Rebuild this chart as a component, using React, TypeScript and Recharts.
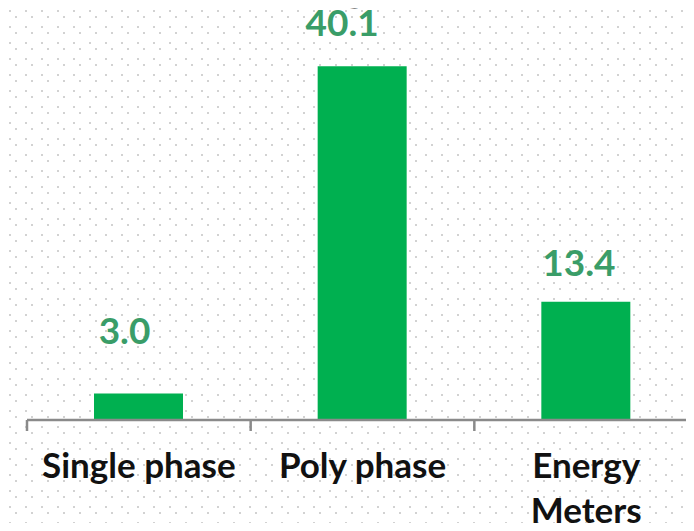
import { BarChart, Bar, XAxis, YAxis, LabelList } from 'recharts'

// values
const categories = ['Single phase', 'Poly phase', 'Energy Meters']
const values = [3.0, 40.1, 13.4]

const data = categories.map((name, i) => ({ name, value: values[i] }))

// hand-placed value labels in the original (dx, lift above bar top)
const labelNudge = [
  [-14, 50],
  [-20, 30],
  [-7, 26],
]

const GREEN = '#00B050'
const LABEL_GREEN = '#3A9D68'
const AXIS_GREY = '#8A8A8A'
const FONT = 'Lato, "Open Sans", sans-serif'

const CategoryTick = (props: any) => {
  const { x, y, payload, index, visibleTicksCount } = props
  const half = payload?.offset ?? 112
  const label = String(payload.value)
  const lines = label.length > 12 ? label.split(' ') : [label]
  const isLast = index === (visibleTicksCount ?? categories.length) - 1
  return (
    <g>
      <line x1={x - half} x2={x - half} y1={y} y2={y + 11} stroke={AXIS_GREY} strokeWidth={2.5} />
      {isLast && <line x1={x + half} x2={x + half} y1={y} y2={y + 11} stroke={AXIS_GREY} strokeWidth={2.5} />}
      {lines.map((l, i) => (
        <text
          key={i}
          x={x}
          y={y + 58 + i * 45}
          textAnchor="middle"
          fill="#111"
          fontFamily={FONT}
          fontWeight={700}
          fontSize={35}
        >
          {l}
        </text>
      ))}
    </g>
  )
}

const ValueLabel = (props: any) => {
  const { x, y, width, value, index } = props
  const [dx, lift] = labelNudge[index] ?? [0, 28]
  return (
    <text
      x={x + width / 2 + dx}
      y={y - lift}
      textAnchor="middle"
      fill={LABEL_GREEN}
      fontFamily={FONT}
      fontWeight={700}
      fontSize={37}
    >
      {Number(value).toFixed(1)}
    </text>
  )
}

export default function App() {
  return (
    <div
      style={{
        position: 'relative',
        width: 694,
        height: 531,
        margin: -8,
        overflow: 'hidden',
        backgroundColor: '#fff',
        backgroundImage:
          'radial-gradient(circle, #d2d2d2 0.9px, transparent 1.3px), radial-gradient(circle, #d2d2d2 0.9px, transparent 1.3px)',
        backgroundSize: '16px 16px, 16px 16px',
        backgroundPosition: '-8px -7px, 2px 3px',
      }}
    >
      <BarChart
        width={722}
        height={531}
        data={data}
        margin={{ top: 23, right: 24, left: 27, bottom: 0 }}
        style={{ position: 'absolute', left: 0, top: 0 }}
      >
        <XAxis
          dataKey="name"
          height={111}
          interval={0}
          tickSize={0}
          tickMargin={0}
          tickLine={false}
          axisLine={{ stroke: AXIS_GREY, strokeWidth: 2.5 }}
          tick={<CategoryTick />}
        />
        <YAxis hide domain={[0, 45]} />
        <Bar dataKey="value" fill={GREEN} barSize={89} isAnimationActive={false}>
          <LabelList dataKey="value" content={<ValueLabel />} />
        </Bar>
      </BarChart>
      {/* title sits above the crop, only the descenders show */}
      <svg width={694} height={20} style={{ position: 'absolute', left: 0, top: 0 }}>
        <text x={390} y={1} textAnchor="end" fontFamily={FONT} fontWeight={900} fontSize={44} fill="#000">
          Energy
        </text>
      </svg>
    </div>
  )
}
